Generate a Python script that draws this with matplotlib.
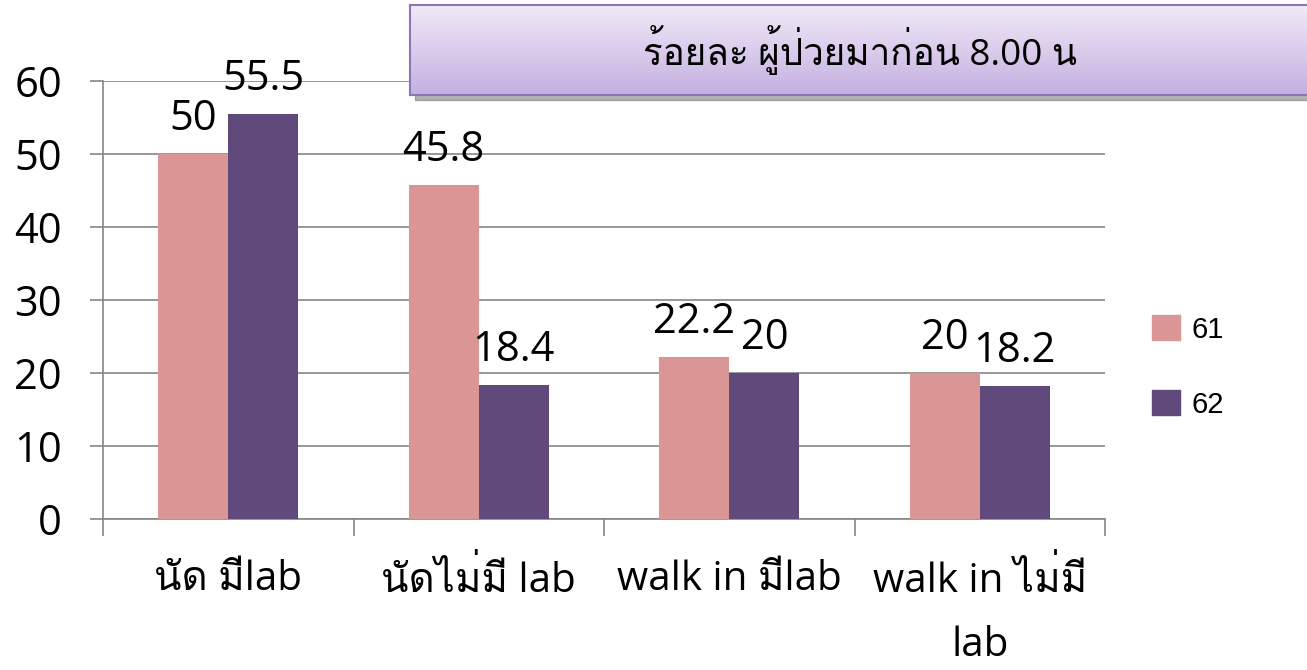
import numpy as np
import matplotlib
matplotlib.use("Agg")
import matplotlib.pyplot as plt
from matplotlib import font_manager
from matplotlib.patches import Rectangle, Patch

# ข้อมูล
categories = ["นัด มีlab", "นัดไม่มี lab", "walk in มีlab", "walk in ไม่มี\nlab"]
series_names = ["61", "62"]
values_61 = [50, 45.8, 22.2, 20]
values_62 = [55.5, 18.4, 20, 18.2]
colors = ["#D99694", "#604A7B"]
title = "ร้อยละ ผู้ป่วยมาก่อน 8.00 น"


def find_thai_font():
    try:
        from fontTools.ttLib import TTFont
    except Exception:
        return None
    for f in font_manager.fontManager.ttflist:
        try:
            tt = TTFont(f.fname, fontNumber=0, lazy=True)
            cmap = tt.getBestCmap()
            if cmap and 0x0E21 in cmap and 0x0E49 in cmap:
                return f.name
        except Exception:
            pass
    return None


thai = find_thai_font()
fam = ["Open Sans"] + ([thai] if thai else []) + ["DejaVu Sans"]
plt.rcParams["font.family"] = fam

W, H = 1307, 670
fig = plt.figure(figsize=(W / 100, H / 100), dpi=100)
ax = fig.add_axes([103 / W, 1 - 519 / H, (1105 - 103) / W, (519 - 81) / H])

grey = "#868686"
x = np.arange(len(categories))
bw = 0.28
b1 = ax.bar(x - bw / 2, values_61, bw, color=colors[0], zorder=3)
b2 = ax.bar(x + bw / 2, values_62, bw, color=colors[1], zorder=3)

for bars, vals in ((b1, values_61), (b2, values_62)):
    for r, v in zip(bars, vals):
        ax.annotate(f"{v:g}", (r.get_x() + r.get_width() / 2, v),
                    xytext=(0, 10), textcoords="offset points",
                    ha="center", va="bottom", fontsize=30, zorder=4)

ax.set_xlim(-0.5, len(categories) - 0.5)
ax.set_ylim(0, 60)
ax.set_yticks(range(0, 61, 10))
ax.yaxis.grid(True, color=grey, linewidth=1.2, zorder=0)
ax.tick_params(axis="y", length=9.5, width=1.2, color=grey, pad=20, labelsize=30)

ax.set_xticks(x)
ax.set_xticklabels(categories, fontsize=29, linespacing=1.75)
ax.set_xticks(np.arange(-0.5, len(categories), 1), minor=True)
ax.tick_params(axis="x", which="major", length=0, pad=29)
ax.tick_params(axis="x", which="minor", length=12, width=1.2, color=grey)

for s in ["top", "right"]:
    ax.spines[s].set_visible(False)
for s in ["left", "bottom"]:
    ax.spines[s].set_color(grey)
    ax.spines[s].set_linewidth(1.2)

# กล่องหัวเรื่อง
bx0, by0, bx1, by1 = 410, 5, 1320, 95
fig.patches.append(Rectangle(((bx0 + 5) / W, 1 - (by1 + 5) / H), (bx1 - bx0) / W, (by1 - by0) / H,
                             transform=fig.transFigure, color="#7f7f7f", alpha=0.6, zorder=5))
tax = fig.add_axes([bx0 / W, 1 - by1 / H, (bx1 - bx0) / W, (by1 - by0) / H], zorder=6)
grad = np.linspace(0, 1, 100)[:, None]
top_c = np.array([0xF1, 0xEA, 0xF8]) / 255
bot_c = np.array([0xC5, 0xB0, 0xE0]) / 255
img = top_c[None, None, :] * (1 - grad[:, :, None]) + bot_c[None, None, :] * grad[:, :, None]
tax.imshow(img, aspect="auto", extent=[0, 1, 0, 1])
tax.set_xticks([])
tax.set_yticks([])
for s in tax.spines.values():
    s.set_color("#8B76B8")
    s.set_linewidth(1.5)
tax.text((860 - bx0) / (bx1 - bx0), 0.5, title, ha="center", va="center", fontsize=26.5)

handles = [Patch(color=c) for c in colors]
fig.legend(handles, series_names, loc="center left", bbox_to_anchor=(1126 / W, 1 - 367 / H),
           frameon=False, prop={"family": ["Liberation Sans", "DejaVu Sans"], "size": 21},
           labelspacing=1.6, handlelength=0.95, handleheight=0.95, handletextpad=0.4)

fig.savefig("out.png", dpi=100)
